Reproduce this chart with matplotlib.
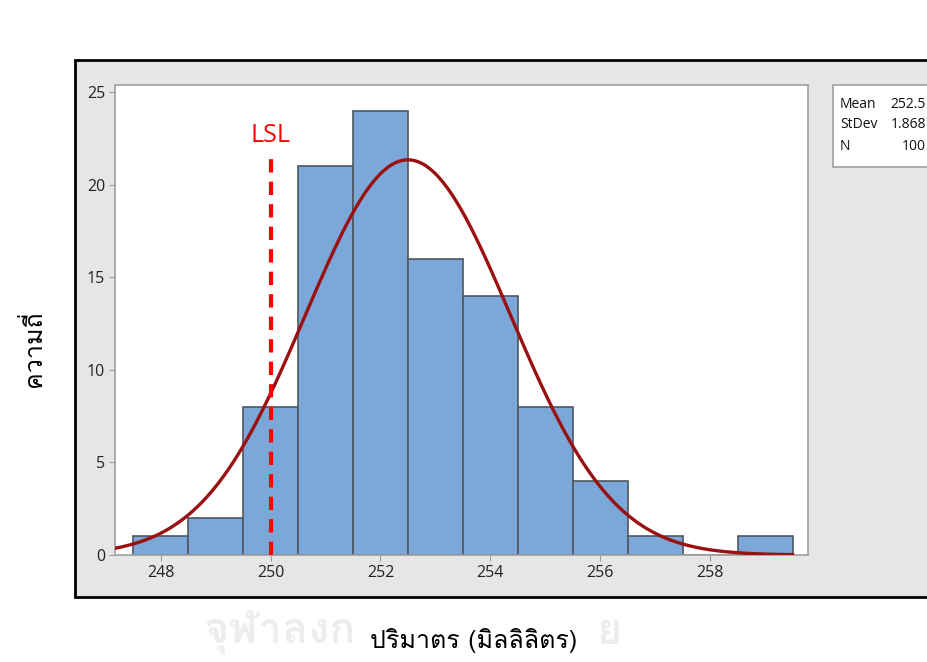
"""
Minitab-style capability histogram: volume (ml), LSL = 250
"""

import numpy as np
import matplotlib
matplotlib.use("Agg")
import matplotlib.pyplot as plt
from matplotlib import font_manager
from matplotlib.ft2font import FT2Font
from matplotlib.patches import Rectangle

# ---------------------------------------------------------------------------
# Data
# ---------------------------------------------------------------------------
bin_edges = [247.5, 248.5, 249.5, 250.5, 251.5, 252.5, 253.5,
             254.5, 255.5, 256.5, 257.5, 258.5, 259.5]
counts    = [1, 2, 8, 21, 24, 16, 14, 8, 4, 1, 0, 1]
x_ticks   = [248, 250, 252, 254, 256, 258]
y_ticks   = [0, 5, 10, 15, 20, 25]
MEAN, STDEV, N = 252.5, 1.868, 100
LSL = 250

stat_names  = ["Mean", "StDev", "N"]
stat_values = ["252.5", "1.868", "100"]

x_label = "ปริมาตร (มิลลิลิตร)"
y_label = "ความถี่"
# visible pieces of the faint page watermark (rest hidden behind the label)
wm_left, wm_right = "จุฬาลงก", "ย"

# ---------------------------------------------------------------------------
# Find a regular font that has Thai glyphs
# ---------------------------------------------------------------------------
thai_font = None
for fe in font_manager.fontManager.ttflist:
    if fe.weight not in (400, "normal", "regular") or fe.style != "normal":
        continue
    try:
        if 0x0E04 in FT2Font(fe.fname).get_charmap():
            thai_font = fe.name
            break
    except Exception:
        pass
thai_family = [thai_font, "DejaVu Sans"] if thai_font else ["DejaVu Sans"]

plt.rcParams["font.family"] = ["Open Sans", "DejaVu Sans"]

# ---------------------------------------------------------------------------
# Figure
# ---------------------------------------------------------------------------
fig = plt.figure(figsize=(9.27, 6.62), dpi=100)
fig.patch.set_facecolor("white")
W, H = 927, 662

# gray Minitab panel with black frame (runs off the right edge)
panel = Rectangle((75 / W, (H - 597) / H), 900 / W, 537 / H,
                  transform=fig.transFigure, facecolor="#e6e6e6",
                  edgecolor="black", linewidth=2, zorder=0)
fig.add_artist(panel)

# faint watermark
fig.text(356 / W, (H - 632) / H, wm_left, family=thai_family, fontsize=31,
         fontweight="bold", color="#ededed", ha="right", va="center", zorder=0)
fig.text(596 / W, (H - 632) / H, wm_right, family=thai_family, fontsize=31,
         fontweight="bold", color="#ededed", ha="left", va="center", zorder=0)

# stats box
box = Rectangle((833 / W, (H - 167) / H), 120 / W, 82 / H,
                transform=fig.transFigure, facecolor="white",
                edgecolor="#a0a0a0", linewidth=1.2, zorder=1)
fig.add_artist(box)
for i, (nm, val) in enumerate(zip(stat_names, stat_values)):
    y = (H - 104 - i * 21) / H
    fig.text(840 / W, y, nm, fontsize=10, ha="left", va="center",
             color="#111111", zorder=2)
    fig.text(926 / W, y, val, fontsize=10, ha="right", va="center",
             color="#111111", zorder=2)

ax = fig.add_axes([115 / W, (H - 555) / H, 693 / W, 470 / H])
ax.set_zorder(3)
ax.set_facecolor("white")

widths  = np.diff(bin_edges)
centers = np.array(bin_edges[:-1]) + widths / 2
ax.bar(centers, counts, width=widths, color="#7ba7d9",
       edgecolor="#4f5660", linewidth=1.2, zorder=2)

# fitted normal curve
xs = np.linspace(247.17, bin_edges[-1], 300)
ys = N * widths[0] / (STDEV * np.sqrt(2 * np.pi)) * np.exp(-0.5 * ((xs - MEAN) / STDEV) ** 2)
ax.plot(xs, ys, color="#9a1111", linewidth=2.4, zorder=3)

# LSL
ax.plot([LSL, LSL], [0, 21.5], color="#ff0000", linewidth=3,
        linestyle=(0, (3.2, 2.2)), zorder=4)
ax.text(LSL, 22.0, "LSL", color="#ff0000", fontsize=18,
        ha="center", va="bottom", zorder=4)

ax.set_xlim(247.17, 259.78)
ax.set_ylim(0, 25.4)
ax.set_xticks(x_ticks)
ax.set_yticks(y_ticks)
ax.tick_params(direction="out", length=4, color="#9a9a9a",
               labelsize=11.5, labelcolor="#222222", pad=3)
for s in ax.spines.values():
    s.set_color("#a0a0a0")
    s.set_linewidth(1.2)

ax.set_xlabel(x_label, family=thai_family, fontsize=18)
ax.set_ylabel(y_label, family=thai_family, fontsize=18)
ax.xaxis.set_label_coords(0.518, -0.155)
ax.yaxis.set_label_coords(-0.1, 0.44)

plt.savefig("out.png", dpi=100)
plt.close()
